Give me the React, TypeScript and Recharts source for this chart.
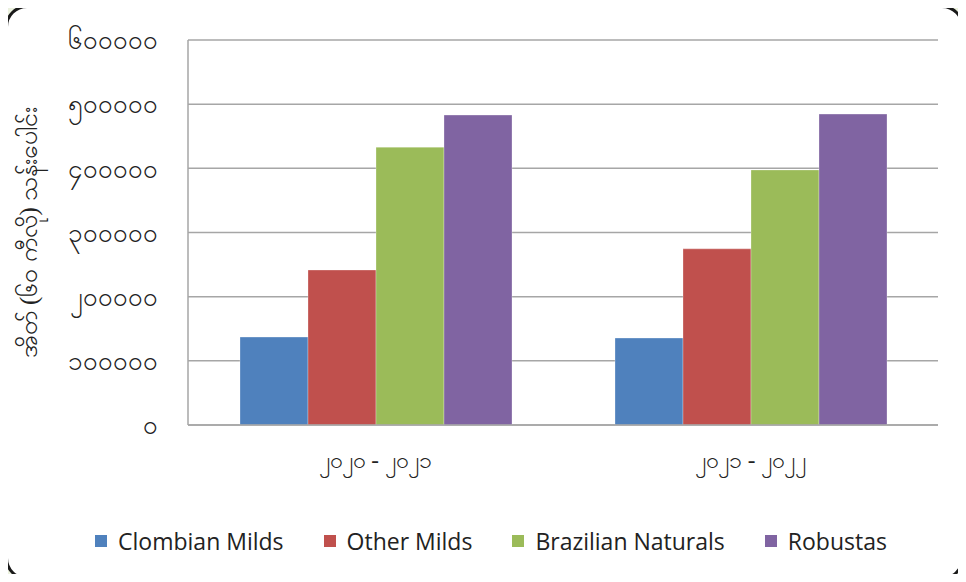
import { BarChart, Bar, XAxis, YAxis, CartesianGrid, Legend } from "recharts";

const categories = ["၂၀၂၀ - ၂၀၂၁", "၂၀၂၁ - ၂၀၂၂"];
const colombianMilds = [137000, 135500];
const otherMilds = [241500, 274500];
const brazilianNaturals = [433000, 397500];
const robustas = [483000, 484500];
const yTicks = [0, 100000, 200000, 300000, 400000, 500000, 600000];
const yTickLabels = ["၀", "၁၀၀၀၀၀", "၂၀၀၀၀၀", "၃၀၀၀၀၀", "၄၀၀၀၀၀", "၅၀၀၀၀၀", "၆၀၀၀၀၀"];
const yTitle = "အိတ် (၆၀ ကီလို) သန်းပေါင်း";

const series = [
  { key: "Clombian Milds", color: "#4f81bd", values: colombianMilds },
  { key: "Other Milds", color: "#c0504d", values: otherMilds },
  { key: "Brazilian Naturals", color: "#9bbb59", values: brazilianNaturals },
  { key: "Robustas", color: "#8064a2", values: robustas },
];

const data = categories.map((name, i) => {
  const row: Record<string, string | number> = { name };
  series.forEach((s) => (row[s.key] = s.values[i]));
  return row;
});

const legendFont = "'Open Sans', 'Noto Sans', sans-serif";

function LegendContent() {
  return (
    <div style={{ display: "flex", justifyContent: "center", gap: 40, paddingLeft: 44, height: 30, lineHeight: "30px" }}>
      {series.map((s) => (
        <div key={s.key} style={{ display: "flex", alignItems: "center", fontFamily: legendFont, fontSize: 23, color: "#222" }}>
          <span style={{ width: 12, height: 12, background: s.color, marginRight: 11, display: "inline-block" }} />
          {s.key}
        </div>
      ))}
    </div>
  );
}

export default function App() {
  return (
    <div style={{ position: "relative", width: 966, height: 582, margin: -8, background: "#ebf1de", overflow: "hidden" }}>
      <div
        style={{
          position: "absolute", left: 5, top: 5, width: 959, height: 575, boxSizing: "border-box",
          border: "3px solid #1a1a1a", borderRadius: 22, background: "#fff",
        }}
      />
      <div style={{ position: "absolute", left: 0, top: 0 }}>
        <BarChart
          width={966}
          height={582}
          data={data}
          margin={{ top: 40, right: 28, left: 0, bottom: 26 }}
          barGap={0}
          barCategoryGap={52}
        >
          <CartesianGrid vertical={false} stroke="#a6a6a6" strokeWidth={1.5} />
          <XAxis
            dataKey="name"
            height={101}
            tickSize={0}
            tickMargin={27}
            stroke="#a6a6a6"
            strokeWidth={1.5}
            tick={{ fontSize: 23, fill: "#222" }}
          />
          <YAxis
            width={188}
            domain={[0, 600000]}
            ticks={yTicks}
            tickFormatter={(v: number) => yTickLabels[yTicks.indexOf(v)]}
            tickSize={0}
            tickMargin={30}
            stroke="#a6a6a6"
            strokeWidth={1.5}
            tick={{ fontSize: 26, fill: "#222" }}
            label={{ value: yTitle, angle: -90, position: "insideLeft", offset: 28, style: { textAnchor: "middle", fontSize: 25, fill: "#222" } }}
          />
          <Legend verticalAlign="bottom" content={<LegendContent />} />
          {series.map((s) => (
            <Bar key={s.key} dataKey={s.key} fill={s.color} stroke="#ffffff" strokeOpacity={0.4} strokeWidth={0.7} isAnimationActive={false} />
          ))}
        </BarChart>
      </div>
    </div>
  );
}
